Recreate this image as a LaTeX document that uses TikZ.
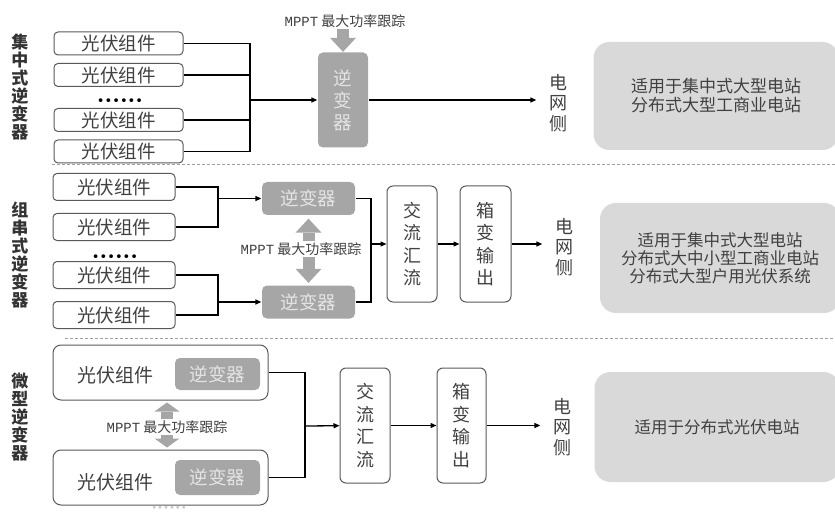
\documentclass[tikz,border=0pt]{standalone}
\usepackage{fontspec}
\setmainfont{Noto Sans CJK SC}
\setmonofont{Liberation Mono}
\newfontfamily\symfont{DejaVu Sans}
\usetikzlibrary{arrows.meta}

\definecolor{txtgray}{HTML}{404040}
\definecolor{titlegray}{HTML}{333333}
\definecolor{boxgray}{HTML}{595959}
\definecolor{invgray}{HTML}{A6A6A6}
\definecolor{invtxt}{HTML}{E4E4E4}
\definecolor{usegray}{HTML}{D9D9D9}
\definecolor{sepgray}{HTML}{A0A0A0}

\begin{document}
\begin{tikzpicture}[x=1pt, y=-1pt, line width=1.3pt, >={Triangle[length=6pt,width=5pt]},
  pvbox/.style={draw=boxgray, line width=1pt, rounded corners=4pt, text=txtgray, inner sep=0pt, font=\fontsize{18.5}{18.5}\selectfont},
  invbox/.style={fill=invgray, rounded corners=5pt, text=invtxt, inner sep=0pt, align=center, font=\fontsize{18.5}{22}\selectfont},
  stepbox/.style={draw=boxgray, line width=1pt, rounded corners=6pt, text=txtgray, minimum width=50pt, inner sep=0pt, align=center, font=\fontsize{18}{22.5}\selectfont},
  usagebox/.style={fill=usegray, rounded corners=16pt, text=txtgray, inner sep=0pt, align=center},
  gridlabel/.style={text=txtgray, align=center, inner sep=2pt, font=\fontsize{18}{20.5}\selectfont},
  title/.style={text=titlegray, align=center, inner sep=0pt, font=\fontsize{17}{18}\selectfont\bfseries},
  mppt/.style={text=txtgray, inner sep=1pt, font=\fontsize{14}{14}\selectfont},
  mpptarrow/.style={draw=invgray, line width=12pt, -{Triangle[length=14pt,width=26pt,line width=0pt]}},
  sepline/.style={draw=sepgray, line width=1pt, dash pattern=on 3pt off 2pt},
  dotrow/.style={inner sep=0pt, font=\symfont\fontsize{13}{13}\selectfont}]
  \useasboundingbox (0,0) rectangle (835,513);
  \clip (0,0) rectangle (835,513);

  % 集中式逆变器
  \node[title] (t1) at (20,87) {集\\中\\式\\逆\\变\\器};
  \node[pvbox, minimum width=129pt, minimum height=23pt] (a1) at (118.5,43.5) {光伏组件};
  \node[pvbox, minimum width=129pt, minimum height=23pt] (a2) at (118.5,75) {光伏组件};
  \node[dotrow] (d1) at (120,102) {••••••};
  \node[pvbox, minimum width=129pt, minimum height=23pt] (a3) at (118.5,120) {光伏组件};
  \node[pvbox, minimum width=129pt, minimum height=23pt] (a4) at (118.5,151.5) {光伏组件};
  \coordinate (b1) at (250,100);
  \node[invbox, minimum width=50pt, minimum height=95pt] (inv1) at (343,100) {逆\\变\\器};
  \node[mppt] (mp1) at (345,21) {\texttt{MPPT}\ 最大功率跟踪};
  \node[gridlabel] (g1) at (558,103) {电\\网\\侧};
  \node[usagebox, minimum width=245pt, minimum height=108pt, font=\fontsize{17}{19}\selectfont] (r1) at (716,96)
    {适用于集中式大型电站\\分布式大型工商业电站};

  \draw (a1.east) -| (b1);
  \draw (a2.east) -| (b1);
  \draw (a3.east) -| (b1);
  \draw (a4.east) -| (b1);
  \draw[->] (b1) -- (inv1);
  \draw[->, shorten >=10pt] (inv1.east) -- (inv1.east -| g1.west);
  \draw[mpptarrow] (inv1.north |- mp1.south) -- (inv1.north);

  \draw[sepline] (52,165) -- (835,165);

  % 组串式逆变器
  \node[title] (t2) at (20,255) {组\\串\\式\\逆\\变\\器};
  \node[pvbox, minimum width=122pt, minimum height=27pt] (p1) at (114,187) {光伏组件};
  \node[pvbox, minimum width=122pt, minimum height=27pt] (p2) at (114,227) {光伏组件};
  \node[dotrow] (d2) at (115,258) {••••••};
  \node[pvbox, minimum width=122pt, minimum height=27pt] (p3) at (114,275) {光伏组件};
  \node[pvbox, minimum width=122pt, minimum height=27pt] (p4) at (114,315) {光伏组件};
  \coordinate (c1) at (218,198.5);
  \coordinate (c2) at (218,302);
  \node[invbox, minimum width=93pt, minimum height=33pt] (inv2a) at (308.5,198.5) {逆变器};
  \node[invbox, minimum width=93pt, minimum height=33pt] (inv2b) at (308.5,302) {逆变器};
  \node[mppt] (mp2) at (301,249) {\texttt{MPPT}\ 最大功率跟踪};
  \coordinate (e2) at (371,244);
  \node[stepbox, minimum height=116pt] (ac2) at (412,244) {交\\流\\汇\\流};
  \node[stepbox, minimum width=51pt, minimum height=116pt] (bx2) at (485.5,244) {箱\\变\\输\\出};
  \node[gridlabel] (g2) at (564,247) {电\\网\\侧};
  \node[usagebox, minimum width=240pt, minimum height=110pt, font=\fontsize{16.5}{18}\selectfont] (r2) at (720,258)
    {适用于集中式大型电站\\分布式大中小型工商业电站\\分布式大型户用光伏系统};

  \draw (p1.east) -| (c1);
  \draw (p2.east) -| (c1);
  \draw (p3.east) -| (c2);
  \draw (p4.east) -| (c2);
  \draw[->] (c1) -- (inv2a);
  \draw[->] (c2) -- (inv2b);
  \draw (inv2a.east) -| (e2);
  \draw (inv2b.east) -| (e2);
  \draw[->] (e2) -- (ac2);
  \draw[->] (ac2) -- (bx2);
  \draw[->, shorten >=10pt] (bx2.east) -- (bx2.east -| g2.west);
  \draw[mpptarrow, shorten >=3pt] (inv2a.south |- mp2.north) -- (inv2a.south);
  \draw[mpptarrow, shorten >=2pt] (inv2b.north |- mp2.south) -- (inv2b.north);

  \draw[sepline] (65,338) -- (835,338);

  % 微型逆变器
  \node[title] (t3) at (20,417) {微\\型\\逆\\变\\器};
  \node[pvbox, rounded corners=8pt, minimum width=215pt, minimum height=55pt] (mi1) at (160.5,372.5) {};
  \node[text=txtgray, inner sep=0pt, font=\fontsize{19}{19}\selectfont] (mi1pv) at (115,375) {光伏组件};
  \node[invbox, minimum width=85pt, minimum height=32pt] (mi1inv) at (217.5,374) {逆变器};
  \node[pvbox, rounded corners=8pt, minimum width=215pt, minimum height=55pt] (mi2) at (160.5,477.5) {};
  \node[text=txtgray, inner sep=0pt, font=\fontsize{19}{19}\selectfont] (mi2pv) at (115,482) {光伏组件};
  \node[invbox, minimum width=85pt, minimum height=35pt] (mi2inv) at (217.5,477.5) {逆变器};
  \node[dotrow, text=gray!40, font=\symfont\fontsize{10}{10}\selectfont] (d3) at (169,509) {••••••};
  \node[mppt] (mp3) at (167,427) {\texttt{MPPT}\ 最大功率跟踪};
  \coordinate (e3) at (305,426);
  \node[stepbox, minimum height=115pt] (ac3) at (365,425.5) {交\\流\\汇\\流};
  \node[stepbox, minimum width=49pt, minimum height=115pt] (bx3) at (461.5,425.5) {箱\\变\\输\\出};
  \node[gridlabel] (g3) at (562,427) {电\\网\\侧};
  \node[usagebox, minimum width=245pt, minimum height=110pt, font=\fontsize{16.5}{17}\selectfont] (r3) at (717,427)
    {适用于分布式光伏电站};

  \draw (mi1.east) -| (e3);
  \draw (mi2.east) -| (e3);
  \draw[->] (e3) -- (ac3);
  \draw[->] (ac3) -- (bx3);
  \draw[->, shorten >=10pt] (bx3.east) -- (bx3.east -| g3.west);
  \draw[mpptarrow, -{Triangle[length=9pt,width=25pt,line width=0pt]}, shorten >=2pt] (mp3.north) -- (mp3.north |- mi1.south);
  \draw[mpptarrow, -{Triangle[length=9pt,width=25pt,line width=0pt]}, shorten >=2pt] (mp3.south) -- (mp3.south |- mi2.north);
\end{tikzpicture}
\end{document}
